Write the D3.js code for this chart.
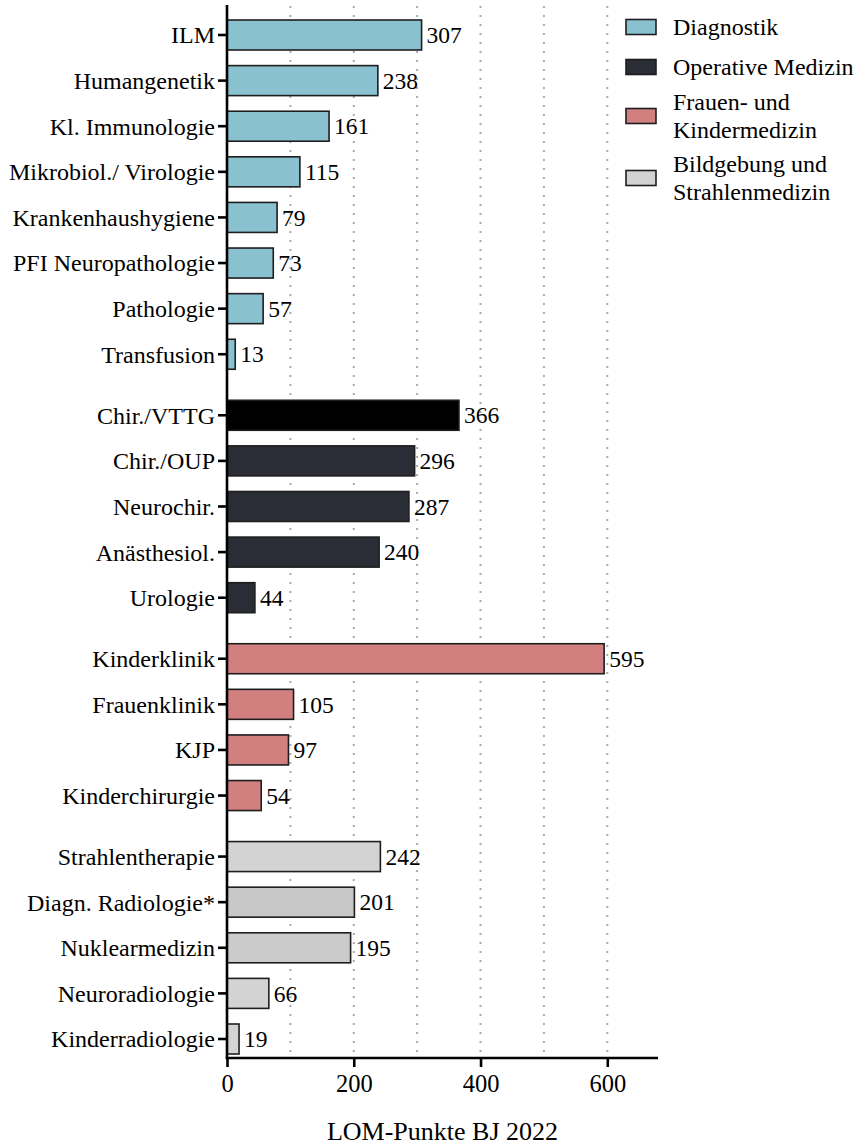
<!DOCTYPE html>
<html>
<head>
<meta charset="utf-8">
<script src="https://cdn.jsdelivr.net/npm/d3@7"></script>
<style>
  body { margin: 0; background: #fff; }
</style>
</head>
<body>
<div id="chart"></div>
<script>
// data
const categories = [
  "ILM", "Humangenetik", "Kl. Immunologie", "Mikrobiol./ Virologie", "Krankenhaushygiene",
  "PFI Neuropathologie", "Pathologie", "Transfusion",
  "Chir./VTTG", "Chir./OUP", "Neurochir.", "Anästhesiol.", "Urologie",
  "Kinderklinik", "Frauenklinik", "KJP", "Kinderchirurgie",
  "Strahlentherapie", "Diagn. Radiologie*", "Nuklearmedizin", "Neuroradiologie", "Kinderradiologie"
];
const values = [307, 238, 161, 115, 79, 73, 57, 13, 366, 296, 287, 240, 44, 595, 105, 97, 54, 242, 201, 195, 66, 19];
const groupOf = [0, 0, 0, 0, 0, 0, 0, 0, 1, 1, 1, 1, 1, 2, 2, 2, 2, 3, 3, 3, 3, 3];
const groups = ["Diagnostik", "Operative Medizin", "Frauen- und\nKindermedizin", "Bildgebung und\nStrahlenmedizin"];
const xTicks = [0, 200, 400, 600];
const gridTicks = [100, 200, 300, 400, 500, 600];

// styles
const FONT = "'Liberation Serif', 'Times New Roman', Times, 'DejaVu Serif', serif";
const groupColors = ["#89c1d0", "#2a2d35", "#d17f7f", "#d3d3d3"];
const shade = { "Chir./VTTG": "#000000", "Diagn. Radiologie*": "#c8c8c8", "Nuklearmedizin": "#cbcbcb" };

const W = 865, H = 1146;
const svg = d3.select("#chart").append("svg")
  .attr("width", W).attr("height", H)
  .attr("font-family", FONT);

const x = d3.scaleLinear().domain([0, 680]).range([227, 658]);
const gapFrac = 0.338;
const pos = categories.map((c, i) => i + groupOf[i] * gapFrac);
const y = d3.scaleLinear().domain([0, d3.max(pos)]).range([35, 1039]);
const barH = 30;
const axisY = 1058;

// grid
svg.append("g").selectAll("line")
  .data(gridTicks).enter()
  .append("line")
  .attr("x1", d => x(d)).attr("x2", d => x(d))
  .attr("y1", 6).attr("y2", axisY)
  .attr("stroke", "#ababab")
  .attr("stroke-width", 2)
  .attr("stroke-dasharray", "2,7");

// bars
svg.append("g").selectAll("rect")
  .data(values).enter()
  .append("rect")
  .attr("x", x(0))
  .attr("y", (d, i) => y(pos[i]) - barH / 2)
  .attr("width", d => x(d) - x(0))
  .attr("height", barH)
  .attr("fill", (d, i) => shade[categories[i]] || groupColors[groupOf[i]])
  .attr("stroke", "#1e1e1e")
  .attr("stroke-width", 1.6);

// value labels
svg.append("g").selectAll("text")
  .data(values).enter()
  .append("text")
  .attr("x", d => x(d) + 5)
  .attr("y", (d, i) => y(pos[i]))
  .attr("dy", "0.35em")
  .attr("font-size", 23.5)
  .text(d => d);

// y axis
const yAxis = svg.append("g");
yAxis.append("line")
  .attr("x1", x(0)).attr("x2", x(0))
  .attr("y1", 5).attr("y2", axisY + 1)
  .attr("stroke", "#000").attr("stroke-width", 2.6);
const yt = yAxis.selectAll("g.tick")
  .data(categories).enter()
  .append("g")
  .attr("transform", (d, i) => `translate(0,${y(pos[i])})`);
yt.append("line")
  .attr("x1", x(0) - 9).attr("x2", x(0))
  .attr("stroke", "#000").attr("stroke-width", 2.6);
yt.append("text")
  .attr("x", x(0) - 12)
  .attr("dy", "0.35em")
  .attr("text-anchor", "end")
  .attr("font-size", 24)
  .text(d => d);

// x axis
const xAxis = svg.append("g")
  .attr("transform", `translate(0,${axisY})`)
  .call(d3.axisBottom(x).tickValues(xTicks).tickSize(9).tickPadding(8).tickSizeOuter(0))
  .attr("font-family", FONT)
  .attr("font-size", 24.5);
xAxis.select(".domain").attr("stroke-width", 2.6).attr("d", `M${x(0) - 1.3},0H658`);
xAxis.selectAll(".tick line").attr("stroke-width", 2.6);

svg.append("text")
  .attr("x", (x(0) + 658) / 2)
  .attr("y", 1140)
  .attr("text-anchor", "middle")
  .attr("font-size", 26)
  .text("LOM-Punkte BJ 2022");

// legend
const legY = [27, 67, 116, 178];
const leg = svg.append("g").selectAll("g")
  .data(groups).enter()
  .append("g")
  .attr("transform", (d, i) => `translate(626,${legY[i]})`);
leg.append("rect")
  .attr("x", 0).attr("y", -7.5)
  .attr("width", 30).attr("height", 15)
  .attr("fill", (d, i) => groupColors[i])
  .attr("stroke", "#1e1e1e")
  .attr("stroke-width", 1.6);
leg.append("text")
  .attr("font-size", 24)
  .each(function (d) {
    const lines = d.split("\n");
    const t = d3.select(this);
    lines.forEach((ln, k) => {
      t.append("tspan")
        .attr("x", 47)
        .attr("y", (k - (lines.length - 1) / 2) * 28)
        .attr("dy", "0.35em")
        .text(ln);
    });
  });
</script>
</body>
</html>
